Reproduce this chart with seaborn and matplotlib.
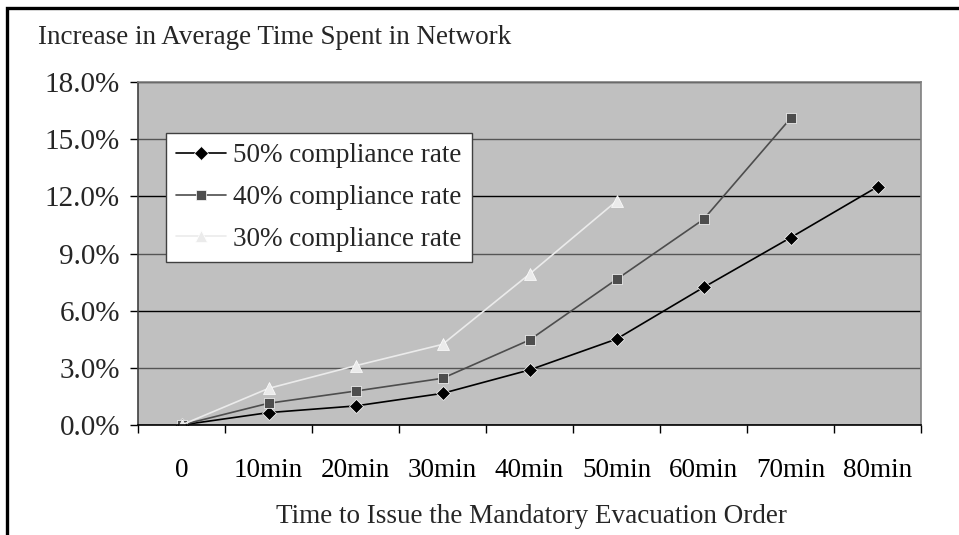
import matplotlib
matplotlib.use("Agg")
import matplotlib.pyplot as plt
import matplotlib.ticker as mticker
from matplotlib.patches import Rectangle
import seaborn as sns
import pandas as pd

# ---- data ----
categories = ["0", "10min", "20min", "30min", "40min", "50min", "60min", "70min", "80min"]
series_names = ["50% compliance rate", "40% compliance rate", "30% compliance rate"]
rate50 = [0.0, 0.65, 1.0, 1.66, 2.89, 4.51, 7.22, 9.83, 12.5]
rate40 = [0.0, 1.14, 1.78, 2.45, 4.46, 7.64, 10.79, 16.09]
rate30 = [0.0, 1.92, 3.11, 4.23, 7.92, 11.75]
y_ticks = [0, 3, 6, 9, 12, 15, 18]

rows = []
for name, vals in zip(series_names, [rate50, rate40, rate30]):
    for c, v in zip(categories, vals):
        rows.append({"time": c, "value": v, "series": name})
df = pd.DataFrame(rows)
df["time"] = pd.Categorical(df["time"], categories=categories, ordered=True)

sns.set_style("white")
plt.rcParams["font.family"] = ["Liberation Serif", "DejaVu Serif"]
FS = 19.5

fig = plt.figure(figsize=(9.59, 5.35), dpi=100)
W, H = 959, 535
ax = fig.add_axes([138 / W, 1 - 425 / H, 783 / W, 343 / H])
ax.set_facecolor("#C0C0C0")

palette = {series_names[0]: "#000000", series_names[1]: "#4D4D4D", series_names[2]: "#EBEBEB"}
markers = {series_names[0]: "D", series_names[1]: "s", series_names[2]: "^"}

sns.lineplot(data=df, x="time", y="value", hue="series", style="series",
             hue_order=series_names, style_order=series_names,
             palette=palette, markers=markers, dashes=False, errorbar=None,
             linewidth=1.2, markersize=7.5, markeredgewidth=0.5, ax=ax, sort=False)

for line in ax.get_lines():
    m = line.get_marker()
    if m == "D":
        line.set_markersize(7.0)
    elif m == "s":
        line.set_markersize(7.0)
    elif m == "^":
        line.set_markersize(8.5)

ax.set_xlim(-0.5, len(categories) - 0.5)
ax.set_ylim(0, 18)
ax.set_yticks(y_ticks)
ax.yaxis.set_major_formatter(mticker.FuncFormatter(lambda v, p: f"{v:.1f}%"))
ax.set_xticks(range(len(categories)))
ax.set_xticklabels(categories)
ax.set_xticks([i - 0.5 for i in range(len(categories) + 1)], minor=True)

ax.tick_params(axis="x", which="major", length=0, pad=24, labelsize=FS, colors="black")
ax.tick_params(axis="x", which="minor", length=6, width=1, direction="out", color="black", bottom=True)
ax.tick_params(axis="y", which="major", length=6, width=1, direction="out", color="black",
               pad=7, labelsize=21, left=True)

ax.grid(True, axis="y", linewidth=1.0)
for i, gl in enumerate(ax.get_ygridlines()):
    gl.set_color("#000000" if i % 2 == 0 else "#555555")
ax.grid(False, axis="x")

for s in ["top", "right"]:
    ax.spines[s].set_color("#808080")
    ax.spines[s].set_linewidth(1.2)
ax.spines["left"].set_color("#404040")
ax.spines["bottom"].set_color("#000000")
ax.spines["left"].set_linewidth(1.2)
ax.spines["bottom"].set_linewidth(1.2)

ax.set_ylabel("")
ax.set_xlabel("Time to Issue the Mandatory Evacuation Order", fontsize=FS)
ax.xaxis.label.set_va("baseline")
ax.xaxis.set_label_coords((531 - 138) / 783, (425 - 523) / 343)

handles, labels = ax.get_legend_handles_labels()
ax.legend(handles, labels, loc="upper left",
          bbox_to_anchor=((166 - 138) / 783, (425 - 133) / 343),
          borderaxespad=0, frameon=True, fancybox=False, framealpha=1,
          edgecolor="#404040", facecolor="white", fontsize=FS,
          handlelength=1.85, handletextpad=0.25, labelspacing=0.62,
          borderpad=0.38)
leg = ax.get_legend()
leg.get_frame().set_linewidth(1.0)

fig.text(38 / W, 1 - 44 / H, "Increase in Average Time Spent in Network",
         fontsize=FS, ha="left", va="baseline")

fig.patches.append(Rectangle((7 / W, -0.1), 1.2, 1.1 - 8 / H, transform=fig.transFigure,
                             fill=False, edgecolor="black", linewidth=2.4))

fig.savefig("out.png", dpi=100, facecolor="white")
